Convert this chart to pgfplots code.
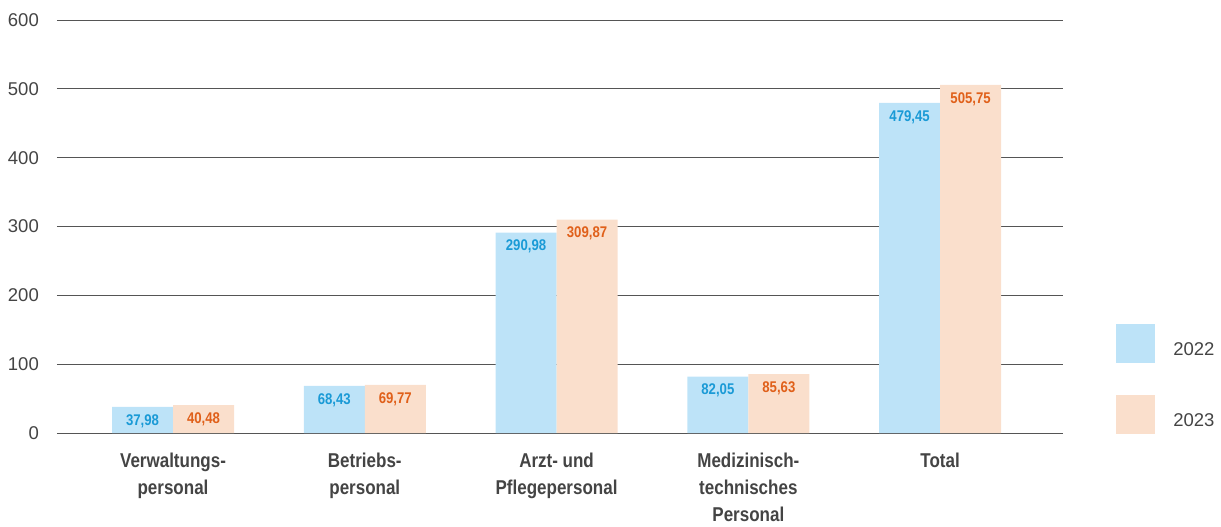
\documentclass[border=0pt]{standalone}
\usepackage{fontspec}
\setmainfont{Liberation Sans}
\newfontfamily\condb[FakeStretch=0.85]{Liberation Sans}
\usepackage{pgfplots}
\pgfplotsset{compat=1.18}
\definecolor{bblue}{HTML}{BDE3F8}
\definecolor{bpeach}{HTML}{FADFCC}
\definecolor{tblue}{HTML}{1A9AD6}
\definecolor{torange}{HTML}{E0601A}
\definecolor{tgray}{HTML}{444444}
\definecolor{ggray}{HTML}{555555}
\begin{document}
\begin{tikzpicture}
\path[use as bounding box] (-57pt,-94pt) rectangle (1164pt,433pt);
\begin{axis}[
  scale only axis,
  width=1006pt, height=413pt,
  xmin=-0.605, xmax=4.641,
  ymin=0, ymax=600,
  ytick={0,100,...,600},
  xtick={0,1,2,3,4},
  xticklabels={Verwaltungs-\\personal, Betriebs-\\personal, Arzt- und\\Pflegepersonal, Medizinisch-\\technisches\\Personal, Total},
  ymajorgrids,
  grid style={ggray, line width=0.9pt},
  axis line style={draw=none},
  major tick length=0pt,
  /pgf/number format/assume math mode=true,
  yticklabel style={anchor=east, inner sep=0pt, xshift=-18pt, font=\fontsize{18.5}{22}\selectfont, text=tgray},
  xticklabel style={anchor=north, inner sep=0pt, yshift=-20pt, align=center, font=\condb\bfseries\fontsize{20}{27}\selectfont, text=tgray},
  ybar=0pt,
  bar width=61pt,
  nodes near coords={\pgfmathprintnumber[fixed, fixed zerofill, precision=2, use comma]{\pgfplotspointmeta}},
  every node near coord/.append style={anchor=center, yshift=-14pt, font=\condb\bfseries\fontsize{15.5}{18}\selectfont},
  legend image code/.code={\fill[#1] (0pt,-13pt) rectangle (39pt,26pt);},
  legend style={draw=none, fill=none, at={(1.0527,0.2639)}, anchor=north west, inner sep=0pt,
    row sep=32pt, column sep=18pt, nodes={inner sep=0pt, text=tgray, font=\fontsize{18.5}{22}\selectfont}},
  legend cell align=left,
]
\addplot[fill=bblue, draw=none, every node near coord/.append style={text=tblue}] coordinates {(0,37.98) (1,68.43) (2,290.98) (3,82.05) (4,479.45)};
\addplot[fill=bpeach, draw=none, every node near coord/.append style={text=torange}] coordinates {(0,40.48) (1,69.77) (2,309.87) (3,85.63) (4,505.75)};
\legend{2022,2023}
\end{axis}
\end{tikzpicture}
\end{document}
